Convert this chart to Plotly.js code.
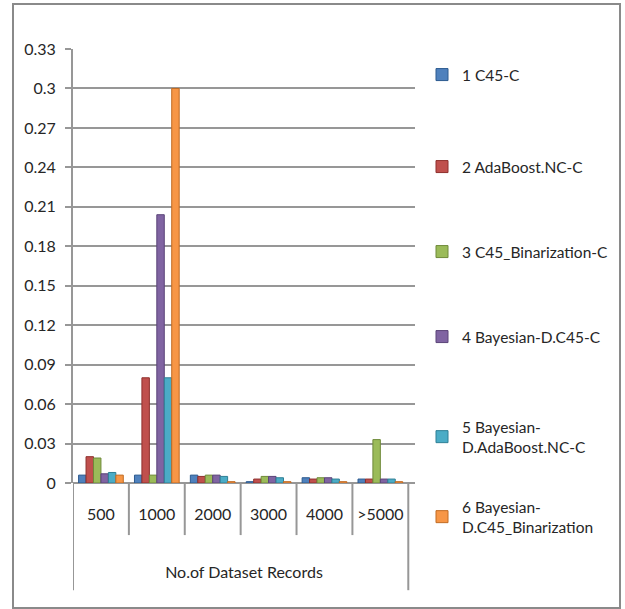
<!DOCTYPE html>
<html>
<head>
<meta charset="utf-8">
<script src="https://cdn.plot.ly/plotly-3.0.1.min.js"></script>
<style>
  html, body { margin: 0; padding: 0; background: #fff; }
  #chart { width: 625px; height: 609px; }
</style>
</head>
<body>
<div id="chart"></div>
<script>
// Dataset size groups on the category axis
const categories = ['500', '1000', '2000', '3000', '4000', '>5000'];

// Series names (legend labels)
const seriesNames = [
  '1 C45-C',
  '2 AdaBoost.NC-C',
  '3 C45_Binarization-C',
  '4 Bayesian-D.C45-C',
  '5 Bayesian-<br>D.AdaBoost.NC-C',
  '6 Bayesian-<br>D.C45_Binarization'
];

// Values per series, one per dataset size group
const c45C           = [0.006, 0.006, 0.006, 0.001, 0.004, 0.003];
const adaBoostNC     = [0.020, 0.080, 0.005, 0.003, 0.003, 0.003];
const c45Binarize    = [0.019, 0.006, 0.006, 0.005, 0.004, 0.033];
const bayesC45       = [0.007, 0.204, 0.006, 0.005, 0.004, 0.003];
const bayesAdaBoost  = [0.008, 0.080, 0.005, 0.004, 0.003, 0.003];
const bayesC45Binar  = [0.006, 0.300, 0.001, 0.001, 0.001, 0.001];

const seriesValues = [c45C, adaBoostNC, c45Binarize, bayesC45, bayesAdaBoost, bayesC45Binar];

const yTicks = [0, 0.03, 0.06, 0.09, 0.12, 0.15, 0.18, 0.21, 0.24, 0.27, 0.3, 0.33];
const yTickText = ['0', '0.03', '0.06', '0.09', '0.12', '0.15', '0.18', '0.21', '0.24', '0.27', '0.3', '0.33'];

const colors = ['#4F81BD', '#C0504D', '#9BBB59', '#8064A2', '#4BACC6', '#F79646'];
const edges  = ['#2c5a8f', '#8e2f2c', '#6f8a3a', '#5a4478', '#2e7f95', '#c06a22'];

const FONT = 'Lato, "Open Sans", sans-serif';
const TEXT_COLOR = '#262626';
const LINE_GRAY = '#979797';

// Plot area geometry in pixels (used to place the legend column)
const PLOT_LEFT = 73, PLOT_WIDTH = 342, PLOT_BOTTOM = 483, PLOT_HEIGHT = 434;
const LEGEND_LEFT_PX = 422;
// Vertical centre (px) of each legend entry in the right-hand column
const legendCentersPx = [75, 167, 252, 337, 437, 517];

const legendKey = i => (i === 0 ? 'legend' : 'legend' + (i + 1));

const traces = seriesValues.map((vals, i) => ({
  type: 'bar',
  name: seriesNames[i],
  x: categories,
  y: vals,
  legend: legendKey(i),
  marker: { color: colors[i], line: { color: edges[i], width: 1 } },
  hoverinfo: 'x+y+name'
}));

// Category boundary separators under the axis, plus the frame around the axis title
const shapes = [];
for (let i = 0; i <= categories.length; i++) {
  const edge = (i === 0 || i === categories.length);
  shapes.push({
    type: 'line', xref: 'x', yref: 'paper',
    x0: i - 0.5, x1: i - 0.5,
    y0: 0, y1: edge ? -0.247 : -0.12,
    line: { color: LINE_GRAY, width: 2 }
  });
}
// Outer chart border
shapes.push({
  type: 'rect', xref: 'paper', yref: 'paper',
  x0: -60 / PLOT_WIDTH, x1: 547 / PLOT_WIDTH,
  y0: -125 / PLOT_HEIGHT, y1: 479 / PLOT_HEIGHT,
  line: { color: '#8a8a8a', width: 2 },
  fillcolor: 'rgba(0,0,0,0)'
});

const layout = {
  width: 625,
  height: 609,
  margin: { l: PLOT_LEFT, r: 625 - PLOT_LEFT - PLOT_WIDTH, t: 49, b: 609 - PLOT_BOTTOM, pad: 0, autoexpand: false },
  paper_bgcolor: '#ffffff',
  plot_bgcolor: '#ffffff',
  font: { family: FONT, size: 16, color: TEXT_COLOR },
  barmode: 'group',
  bargap: 0.2,
  bargroupgap: 0,
  showlegend: true,
  xaxis: {
    type: 'category',
    range: [-0.5, 5.62],
    showgrid: false,
    zeroline: false,
    showline: false,
    ticks: '',
    ticklabelstandoff: 20,
    tickfont: { family: FONT, size: 16, color: TEXT_COLOR },
    title: {
      text: 'No.of Dataset Records',
      font: { family: FONT, size: 16, color: TEXT_COLOR },
      standoff: 44
    },
    fixedrange: true
  },
  yaxis: {
    range: [0, 0.33],
    tickvals: yTicks,
    ticktext: yTickText,
    showgrid: true,
    gridcolor: LINE_GRAY,
    gridwidth: 2,
    zeroline: true,
    zerolinecolor: LINE_GRAY,
    zerolinewidth: 2,
    showline: true,
    linecolor: LINE_GRAY,
    linewidth: 2,
    ticks: 'outside',
    ticklen: 6,
    tickwidth: 2,
    tickcolor: LINE_GRAY,
    ticklabelstandoff: 6,
    tickfont: { family: FONT, size: 16, color: TEXT_COLOR },
    fixedrange: true
  },
  shapes: shapes
};

// One legend box per series so each entry sits at its own height in the column
legendCentersPx.forEach((cy, i) => {
  layout[legendKey(i)] = {
    x: (LEGEND_LEFT_PX - PLOT_LEFT) / PLOT_WIDTH, xanchor: 'left',
    y: (PLOT_BOTTOM - cy) / PLOT_HEIGHT, yanchor: 'middle',
    font: { family: FONT, size: 15.5, color: TEXT_COLOR },
    itemclick: false, itemdoubleclick: false,
    bgcolor: 'rgba(0,0,0,0)',
    borderwidth: 0
  };
});

Plotly.newPlot('chart', traces, layout, { displayModeBar: false, staticPlot: true });
</script>
</body>
</html>
